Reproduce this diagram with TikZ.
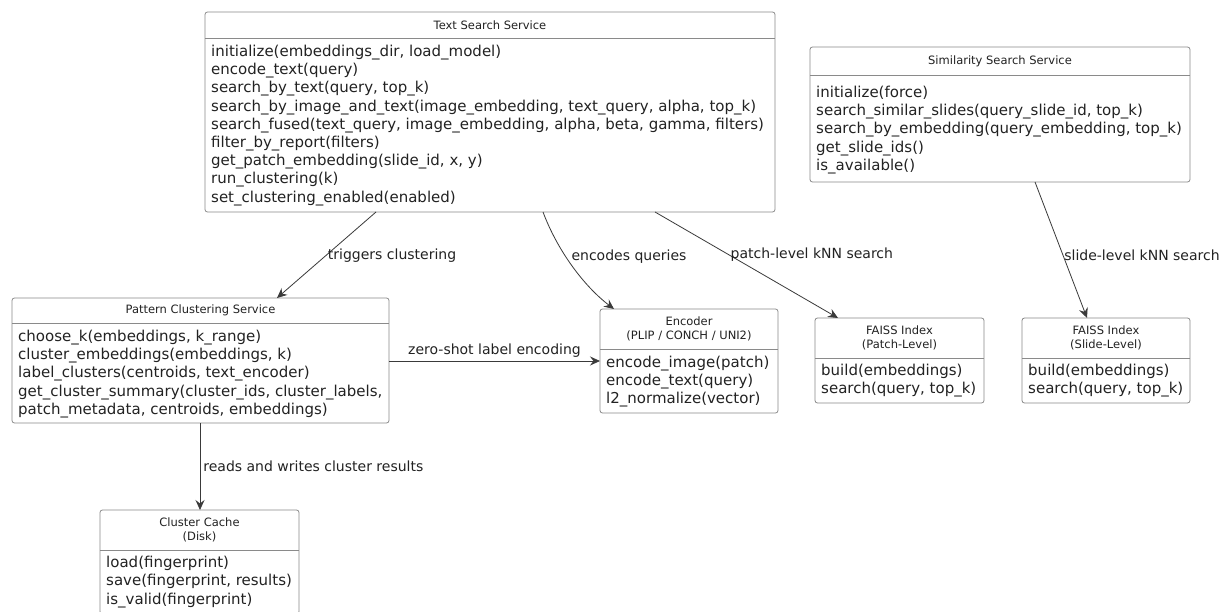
\documentclass[tikz,border=0pt]{standalone}
\usepackage{fontspec}
\setmainfont{DejaVu Sans}
\usetikzlibrary{arrows.meta,calc}

\definecolor{boxline}{HTML}{8A8A8A}
\definecolor{edgeline}{HTML}{3A3A3A}
\definecolor{inktext}{HTML}{222222}

\tikzset{
  umlbox/.style={draw=boxline, line width=0.8pt, fill=white, rounded corners=2.5pt, inner sep=0pt, outer sep=0pt, anchor=north west},
  umltitle/.style={font=\fontsize{11.5}{14}\selectfont, text=inktext, inner sep=0pt, outer sep=0pt, anchor=north, align=center},
  umlops/.style={font=\fontsize{15}{18.2}\selectfont, text=inktext, inner sep=0pt, anchor=north west, align=left},
  sepline/.style={draw=boxline, line width=0.8pt},
  uses/.style={draw=edgeline, line width=0.8pt, -{Stealth[length=10pt,width=9pt,inset=3.5pt]}},
  edgelabel/.style={font=\fontsize{14}{16}\selectfont, text=inktext, inner sep=2pt}
}

\begin{document}
\begin{tikzpicture}[x=1pt,y=-1pt]
\useasboundingbox (0,0) rectangle (1228,612);
\fill[white] (0,0) rectangle (1228,612);

% Text Search Service
\node[umlbox, minimum width=570pt, minimum height=200pt] (tss) at (205,12) {};
\node[umltitle, minimum height=26pt] (tss-title) at (tss.north) {Text Search Service};
\draw[sepline] (tss-title.south -| tss.west) -- (tss-title.south -| tss.east);
\node[umlops] (tss-ops) at ($(tss-title.south -| tss.west)+(6pt,-7pt)$) {initialize(embeddings\_dir, load\_model)\\encode\_text(query)\\search\_by\_text(query, top\_k)\\search\_by\_image\_and\_text(image\_embedding, text\_query, alpha, top\_k)\\search\_fused(text\_query, image\_embedding, alpha, beta, gamma, filters)\\filter\_by\_report(filters)\\get\_patch\_embedding(slide\_id, x, y)\\run\_clustering(k)\\set\_clustering\_enabled(enabled)};

% Similarity Search Service
\node[umlbox, minimum width=380pt, minimum height=135pt] (sss) at (810,47) {};
\node[umltitle, minimum height=28pt] (sss-title) at (sss.north) {Similarity Search Service};
\draw[sepline] (sss-title.south -| sss.west) -- (sss-title.south -| sss.east);
\node[umlops] (sss-ops) at ($(sss-title.south -| sss.west)+(6pt,-11pt)$) {initialize(force)\\search\_similar\_slides(query\_slide\_id, top\_k)\\search\_by\_embedding(query\_embedding, top\_k)\\get\_slide\_ids()\\is\_available()};

% Pattern Clustering Service
\node[umlbox, minimum width=377pt, minimum height=125pt] (pcs) at (12,298) {};
\node[umltitle, minimum height=25pt] (pcs-title) at (pcs.north) {Pattern Clustering Service};
\draw[sepline] (pcs-title.south -| pcs.west) -- (pcs-title.south -| pcs.east);
\node[umlops] (pcs-ops) at ($(pcs-title.south -| pcs.west)+(6pt,-7pt)$) {choose\_k(embeddings, k\_range)\\cluster\_embeddings(embeddings, k)\\label\_clusters(centroids, text\_encoder)\\get\_cluster\_summary(cluster\_ids, cluster\_labels,\\patch\_metadata, centroids, embeddings)};

% Encoder
\node[umlbox, minimum width=178pt, minimum height=104pt] (enc) at (600,309) {};
\node[umltitle, minimum height=40pt] (enc-title) at (enc.north) {Encoder\\(PLIP / CONCH / UNI2)};
\draw[sepline] (enc-title.south -| enc.west) -- (enc-title.south -| enc.east);
\node[umlops] (enc-ops) at ($(enc-title.south -| enc.west)+(6pt,-7pt)$) {encode\_image(patch)\\encode\_text(query)\\l2\_normalize(vector)};

% FAISS indexes
\node[umlbox, minimum width=169pt, minimum height=85pt] (fpi) at (815,318) {};
\node[umltitle, minimum height=40pt] (fpi-title) at (fpi.north) {FAISS Index\\(Patch-Level)};
\draw[sepline] (fpi-title.south -| fpi.west) -- (fpi-title.south -| fpi.east);
\node[umlops] (fpi-ops) at ($(fpi-title.south -| fpi.west)+(6pt,-6pt)$) {build(embeddings)\\search(query, top\_k)};

\node[umlbox, minimum width=168pt, minimum height=85pt] (fsi) at (1022,318) {};
\node[umltitle, minimum height=40pt] (fsi-title) at (fsi.north) {FAISS Index\\(Slide-Level)};
\draw[sepline] (fsi-title.south -| fsi.west) -- (fsi-title.south -| fsi.east);
\node[umlops] (fsi-ops) at ($(fsi-title.south -| fsi.west)+(6pt,-6pt)$) {build(embeddings)\\search(query, top\_k)};

% Cluster Cache
\node[umlbox, minimum width=199pt, minimum height=104pt] (cch) at (100,510) {};
\node[umltitle, minimum height=40pt] (cch-title) at (cch.north) {Cluster Cache\\(Disk)};
\draw[sepline] (cch-title.south -| cch.west) -- (cch-title.south -| cch.east);
\node[umlops] (cch-ops) at ($(cch-title.south -| cch.west)+(6pt,-6pt)$) {load(fingerprint)\\save(fingerprint, results)\\is\_valid(fingerprint)};

% connectors
\draw[uses] (376,0 |- tss.south) -- node[edgelabel, pos=0.51, anchor=west] {triggers clustering} (277,0 |- pcs.north);
\draw[uses] (543,0 |- tss.south) .. controls (558,252) and (585,287) .. node[edgelabel, pos=0.4, anchor=west, inner sep=5pt] {encodes queries} (614,0 |- enc.north);
\draw[uses] (655,0 |- tss.south) -- node[edgelabel, pos=0.406, anchor=west, inner sep=1pt] {patch-level kNN search} (838,0 |- fpi.north);
\draw[uses] (1035,0 |- sss.south) -- node[edgelabel, pos=0.537, anchor=west, inner sep=1pt] {slide-level kNN search} (1087,0 |- fsi.north);
\draw[uses] (pcs.east |- 0,361) -- node[edgelabel, midway, above, inner sep=3pt] {zero-shot label encoding} (enc.west |- 0,361);
\draw[uses] (200,0 |- pcs.south) -- node[edgelabel, midway, right, inner sep=3pt] {reads and writes cluster results} (200,0 |- cch.north);
\end{tikzpicture}
\end{document}
